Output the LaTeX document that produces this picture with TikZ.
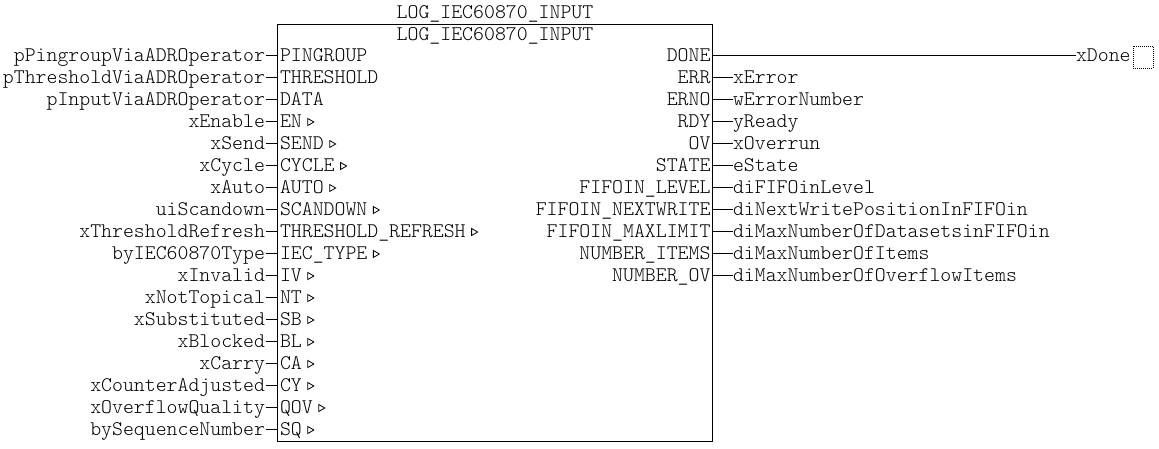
\documentclass[tikz,border=0pt]{standalone}
\usepackage{fontspec}
\setmonofont{Latin Modern Mono Light}
\usetikzlibrary{positioning}

\begin{document}
\begin{tikzpicture}[x=1pt, y=-1pt, line width=1pt,
    every node/.style={font=\ttfamily\fontsize{20.8}{22}\selectfont, inner sep=0pt, text height=12pt, text depth=0pt},
    block/.style={rectangle, draw, minimum width=435pt, minimum height=417pt},
    trig/.style={line width=0.8pt},
    outbox/.style={rectangle, draw, line width=0.8pt, dash pattern=on 1pt off 1pt, minimum width=20pt, minimum height=22pt}]

    \useasboundingbox (0,0) rectangle (1159,448);

    \node[block] (fb) at (495,233) {};
    \node (title) at (495,12.5) {LOG\_IEC60870\_INPUT};
    \node (inner) at (495,34) {LOG\_IEC60870\_INPUT};

    % inputs
    \foreach \pin/\var/\t [count=\i from 0] in {
        PINGROUP/pPingroupViaADROperator/0, THRESHOLD/pThresholdViaADROperator/0,
        DATA/pInputViaADROperator/0, EN/xEnable/1, SEND/xSend/1, CYCLE/xCycle/1,
        AUTO/xAuto/1, SCANDOWN/uiScandown/1, THRESHOLD\_REFRESH/xThresholdRefresh/1,
        IEC\_TYPE/byIEC60870Type/1, IV/xInvalid/1, NT/xNotTopical/1, SB/xSubstituted/1,
        BL/xBlocked/1, CA/xCarry/1, CY/xCounterAdjusted/1, QOV/xOverflowQuality/1,
        SQ/bySequenceNumber/1} {
        \node[anchor=west] (p\i) at (279.5,55+22*\i) {\pin};
        \node[anchor=east] (v\i) at (265.5,55+22*\i) {\var};
        \draw (v\i.east) -- (v\i.east -| fb.west);
        \ifnum\t=1 \draw[trig] (p\i.east) ++(5.5,-2.5) -- ++(6,3.5) -- ++(-6,3.5) -- cycle; \fi
    }

    % outputs
    \node[anchor=east] (o0) at (711,55) {DONE};
    \node[anchor=west] (done) at (1075.5,55) {xDone};
    \draw (done.west -| fb.east) -- (done.west);
    \node[outbox, right=1.5pt of done, yshift=-2pt] (outval) {};
    \foreach \pin/\var [count=\i from 1] in {
        ERR/xError, ERNO/wErrorNumber, RDY/yReady, OV/xOverrun, STATE/eState,
        FIFOIN\_LEVEL/diFIFOinLevel, FIFOIN\_NEXTWRITE/diNextWritePositionInFIFOin,
        FIFOIN\_MAXLIMIT/diMaxNumberOfDatasetsinFIFOin, NUMBER\_ITEMS/diMaxNumberOfItems,
        NUMBER\_OV/diMaxNumberOfOverflowItems} {
        \node[anchor=east] (o\i) at (711,55+22*\i) {\pin};
        \node[anchor=west] (r\i) at (732.5,55+22*\i) {\var};
        \draw (r\i.west -| fb.east) -- (r\i.west);
    }
\end{tikzpicture}
\end{document}
